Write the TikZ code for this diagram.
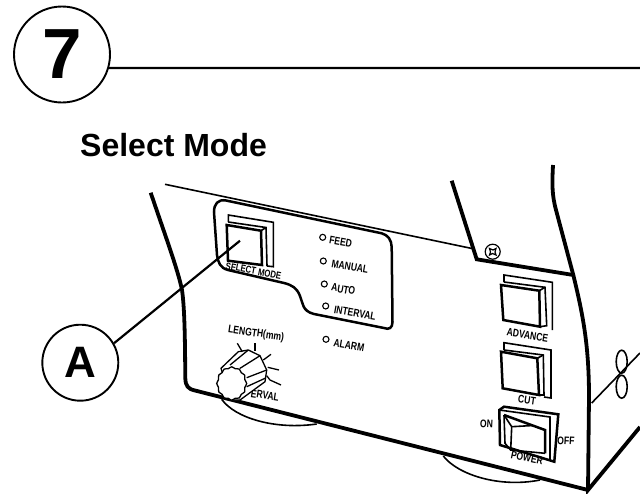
\documentclass[tikz,border=0pt]{standalone}
\usepackage{fontspec}
\setmainfont{Liberation Sans}
\tikzset{
  bubble/.style={draw,circle,line width=1.9pt,inner sep=0pt,minimum size=76pt,font=\bfseries},
  heavy/.style={line width=3.8pt},
  outline/.style={line width=2.5pt},
  thin line/.style={line width=1.6pt},
  leader/.style={line width=2.2pt},
  lamp/.style={draw,circle,line width=1.1pt,inner sep=0pt,minimum size=6pt},
  panel text/.style={font=\fontsize{11}{11}\bfseries,inner sep=0pt,rotate=#1,xscale=.78},
  panel text/.default=-10,
}
\begin{document}
\begin{tikzpicture}[x=1pt,y=-1pt]
\useasboundingbox (0,0) rectangle (640,493);
% heading
\node[bubble,minimum size=96pt,font=\fontsize{71}{71}\bfseries] (seven) at (62,54.5) {7};
\coordinate (ruleend) at (640,68);
\draw[leader] (seven.-16) -- (ruleend);
\node[font=\fontsize{32}{32}\bfseries,anchor=base west,inner sep=0pt] (title) at (80,156.5) {Select Mode};
\node[bubble,font=\fontsize{44}{44}\bfseries] (A) at (80.3,362.7) {A};
% texts under the case lines
\node[panel text=-11,font=\fontsize{10}{10}\bfseries] (selecttext) at (253.5,271) {SELECT MODE};
\node[panel text=-8] (lengthtext) at (256,334) {LENGTH(mm)};
\node[panel text=-9] (ervaltext) at (265,395.5) {ERVAL};
\node[panel text=-9] (advancetext) at (527.5,335) {ADVANCE};
\node[panel text=-8] (cuttext) at (527,400) {CUT};
\node[panel text=-3] (ontext) at (486.5,424) {ON};
\node[panel text=-3] (offtext) at (566,441) {OFF};
\node[panel text=-12] (powertext) at (527,458) {POWER};
% lamps
\foreach \lampname/\lx/\ly/\tx/\ty/\t in {feed/322.7/237.3/340.7/242/FEED,manual/323.3/261/350/266.7/MANUAL,auto/324.3/284/343.3/289.3/AUTO,interval/325.7/306/355/313.3/INTERVAL,alarm/326/339.3/349/345/ALARM}{
  \node[lamp] (\lampname) at (\lx,\ly) {};
  \node[panel text] (\lampname text) at (\tx,\ty) {\t};
}
% case
\draw[thin line] (165,184.3) -- (472,248.5);
\draw[heavy] (150.7,192.7) .. controls (165,235) and (178,270) .. (182,290) .. controls (185,310) and (185,350) .. (185.3,378) .. controls (185.5,386) and (188,389) .. (195,390.5) -- (588,490);
\draw[heavy] (451.7,180.7) -- (476.7,259.3) -- (573.3,275);
\draw[heavy] (553,165) .. controls (552,185) and (552,195) .. (556,210) -- (573.3,275) .. controls (583,315) and (589,345) .. (589,397) -- (588,490) -- (640,427);
\draw[thin line] (591.7,403) -- (640,353);
\draw[thin line] (621.7,361.7) ellipse (5.5 and 11.5);
\draw[thin line] (621.7,386.7) ellipse (5.5 and 11.5);
\draw[line width=1.2pt] (492.7,251.7) circle (7.5);
\draw[line width=1.2pt] (489.5,248.5) -- (493,250) -- (496,248.5) -- (495,252) -- (496,255) -- (492.5,253.5) -- (489.5,255) -- (490.5,252) -- cycle;
% feet
\draw[thin line] (221.7,399.3) .. controls (235,418) and (275,430) .. (316.7,424);
\draw[thin line] (443.3,456) .. controls (458,475) and (500,488) .. (540,480);
% panel outline
\draw[outline] (226,200.5) -- (381.7,233.3) .. controls (388,235) and (391.5,240) .. (391.7,247) -- (392.5,322) .. controls (392.5,328) and (389,330) .. (384,328) -- (314,314) .. controls (302,311) and (303,303) .. (300,296) .. controls (297,288) and (292,285) .. (284,283) -- (228,270) .. controls (220,268) and (218,262) .. (217,255) -- (214,212) .. controls (214,204) and (218,199) .. (226,200.5);
% switches
\draw[thin line] (228.3,222) -- (228.3,215) -- (273.3,222.3) -- (273.3,266.7) -- (267,266);
\draw[thin line] (228.3,222) -- (266,227.5) -- (267,266);
\draw[outline] (226.7,225) -- (261,230.7) -- (262,265) -- (228,260.7) -- cycle;
\draw[thin line] (261,230.7) -- (266,227.5);
\draw[thin line] (504,282) -- (504,275) -- (552.3,282.3) -- (552.3,330);
\draw[thin line] (504,282) -- (545,287.3) -- (546.7,325.7) -- (540,326.7);
\draw[outline] (501,285) -- (539.3,290.7) -- (540,326.7) -- (503.3,320) -- cycle;
\draw[thin line] (539.3,290.7) -- (545,287.3);
\draw[thin line] (504,350) -- (504,342.7) -- (551,350) -- (551,398) -- (544,397);
\draw[thin line] (504,350) -- (543.3,355) -- (544,395) -- (539,395);
\draw[outline] (501,351.7) -- (537.3,358.3) -- (539,395) -- (502.7,388.3) -- cycle;
\draw[thin line] (537.3,358.3) -- (543.3,355);
% power switch
\draw[outline] (499.3,410) -- (500,445) -- (554.3,461.7) -- (558.3,414.3) -- (504,406.7) -- cycle;
\draw[thin line] (499.3,410) -- (550,417) -- (550,460);
\draw[thin line] (504,415) -- (505,443.3) -- (510.7,450);
\draw[outline] (504,415) -- (545,430) -- (545,453.3);
\draw[thin line] (504,415) -- (511.7,426.7) -- (533,425.5);
\draw[thin line] (511.7,426.7) -- (510.7,450) -- (545,453.3);
% knob
\draw[thin line,line width=1.3pt,fill=white] (221,368.3) -- (238.3,351.7) -- (248.3,350) -- (260,355.7) -- (266.7,370) -- (265,381.7) -- (240,400) -- (231,400) -- cycle;
\foreach \ax/\ay/\bx/\by in {230/365/248.3/350,240/368.3/260/355.7,246.7/377.7/266.7/370,246.7/386.7/265/378.3}
  \draw[line width=1.3pt] (\ax,\ay) -- (\bx,\by);
\foreach \ax/\ay/\bx/\by in {237.3/343.3/242.3/351.7,255/343.3/255/351,271/354.3/263.3/360,279/370/267.7/367.3}
  \draw[line width=1.3pt] (\ax,\ay) -- (\bx,\by);
\draw[line width=1.3pt] (281,385) -- (270,380) -- (266.7,375.7);
\draw[line width=1.3pt,fill=white] plot[domain=0:345,samples=24,smooth cycle] ({231.7+(14.3+.7*cos(12*\x))*cos(\x)},{383.5+(16+.7*cos(12*\x))*sin(\x)});
% pointer
\coordinate (keytip) at (240,240.7);
\draw[leader] (A.30) -- (keytip);
\end{tikzpicture}
\end{document}
